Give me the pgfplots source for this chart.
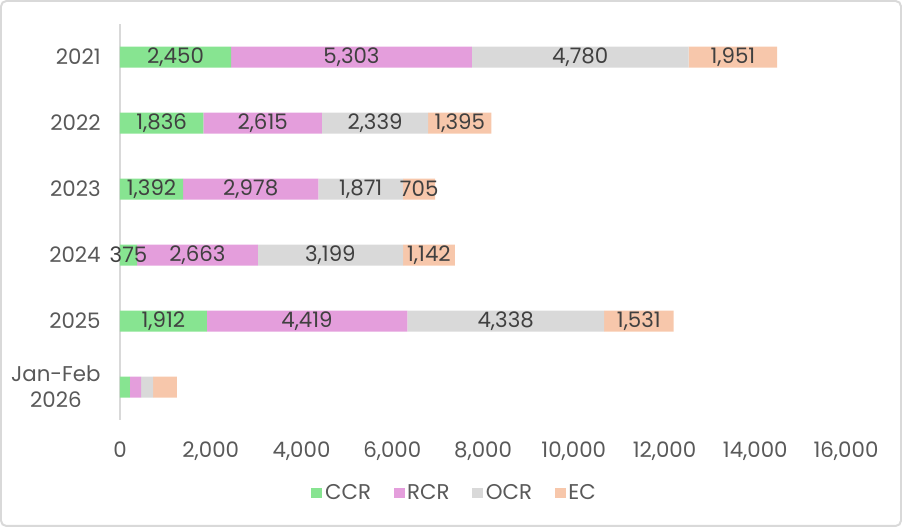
\documentclass[border=0pt]{standalone}
\usepackage{fontspec}
\setmainfont{Poppins}
\usepackage{pgfplots}
\usepackage{pgfplotstable}
\pgfplotsset{compat=1.18}
\definecolor{ccr}{RGB}{135,228,145}
\definecolor{rcr}{RGB}{228,158,220}
\definecolor{ocr}{RGB}{217,217,217}
\definecolor{ecc}{RGB}{247,199,171}
\definecolor{lbl}{RGB}{64,64,64}
\definecolor{axt}{RGB}{89,89,89}
\pgfplotstableread{
y ccr rcr ocr ec lccr lrcr locr lec
0 2450 5303 4780 1951 2,450 5,303 4,780 1,951
1 1836 2615 2339 1395 1,836 2,615 2,339 1,395
2 1392 2978 1871 705 1,392 2,978 1,871 705
3 375 2663 3199 1142 375 2,663 3,199 1,142
4 1912 4419 4338 1531 1,912 4,419 4,338 1,531
5 220 245 265 525 {} {} {} {}
}\data
\begin{document}
\begin{tikzpicture}
\useasboundingbox (-90pt,-80.25pt) rectangle (586.5pt,315pt);
\draw[ocr, line width=1.5pt, rounded corners=4pt] (-89.25pt,-79.5pt) rectangle (585.75pt,314.25pt);
\pgfplotsset{sq/.style={legend image code/.code={\fill[##1] (0pt,-4.1pt) rectangle (8.2pt,4.1pt);}}}
\begin{axis}[
  scale only axis, width=544.5pt, height=297pt,
  xbar stacked, bar width=15.75pt,
  xmin=0, xmax=16000, ymin=-0.5, ymax=5.5, y dir=reverse,
  xtick={0,2000,...,16000}, scaled x ticks=false,
  ytick={0,1,2,3,4,5},
  yticklabels={2021,2022,2023,2024,2025,{Jan-Feb\\2026}},
  yticklabel style={align=center, xshift=-11pt},
  xticklabel style={yshift=-13pt},
  /pgf/number format/assume math mode=true,
  /pgf/number format/1000 sep={,},
  major tick length=0pt,
  tick style={draw=none},
  ticklabel style={font=\fontsize{16pt}{19.5pt}\selectfont, text=axt},
  axis x line*=bottom,
  x axis line style={draw=none},
  axis y line*=left,
  y axis line style={draw=ocr, line width=1.2pt, -},
  point meta=explicit symbolic,
  nodes near coords,
  nodes near coords align={center},
  every node near coord/.append style={anchor=center, font=\fontsize{16pt}{18pt}\selectfont, text=lbl},
  legend style={draw=none, at={(0.4614,-0.1843)}, anchor=center, legend columns=4,
    font=\fontsize{16pt}{18pt}\selectfont, text=axt,
    /tikz/every even column/.append style={column sep=15pt}},
]
\addplot[fill=ccr, draw=none, sq] table[x=ccr, y=y, meta=lccr] {\data};
\addplot[fill=rcr, draw=none, sq] table[x=rcr, y=y, meta=lrcr] {\data};
\addplot[fill=ocr, draw=none, sq] table[x=ocr, y=y, meta=locr] {\data};
\addplot[fill=ecc, draw=none, sq] table[x=ec, y=y, meta=lec] {\data};
\legend{CCR,RCR,OCR,EC}
\end{axis}
\end{tikzpicture}
\end{document}
